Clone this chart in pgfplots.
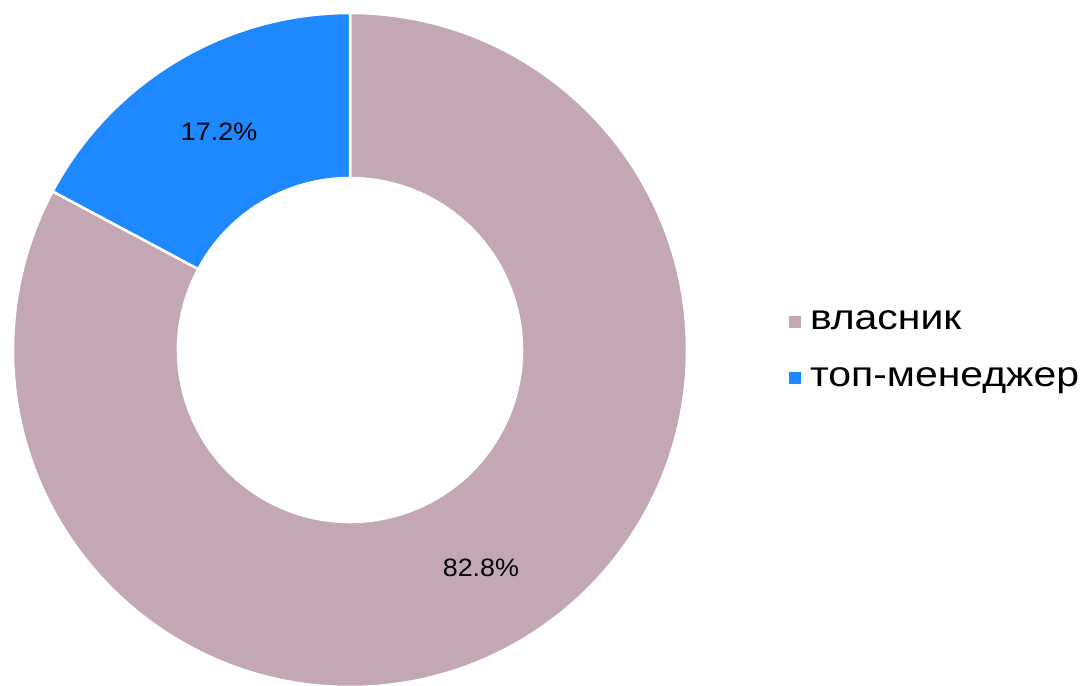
\documentclass[border=0pt]{standalone}
\usepackage{fontspec}
\setmainfont{Liberation Sans}
\newfontfamily\legfont[FakeStretch=1.165]{Liberation Sans}
\newfontfamily\labfont[FakeStretch=1.07]{Liberation Sans}
\usepackage{pgfplots}
\pgfplotsset{compat=1.18}
\definecolor{cOwner}{HTML}{C4A7B4}
\definecolor{cTop}{HTML}{1E88FF}
\begin{document}
\begin{tikzpicture}
% data (percent)
\def\vA{82.8}% власник
\def\vB{17.2}% топ-менеджер
\pgfmathsetmacro\aA{90}
\pgfmathsetmacro\aB{90-3.6*\vA}
\pgfmathsetmacro\aC{\aB-3.6*\vB}
\pgfmathsetmacro\mA{(\aA+\aB)/2}
\pgfmathsetmacro\mB{(\aB+\aC)/2}
\def\Ro{6.74cm}
\def\Ri{3.44cm}
\def\Rm{5.09cm}
\begin{axis}[
  x=1cm, y=1cm,
  xmin=0, xmax=21.72, ymin=0, ymax=13.7,
  hide axis, clip=false,
  legend style={at={(axis cs:15.78,6.70)}, anchor=west, draw=none, fill=none,
    inner sep=0pt, outer sep=0pt, font=\legfont\fontsize{20}{24}\selectfont,
    row sep=20pt, legend cell align=left,
    nodes={inner sep=0pt},
    /tikz/every odd column/.append style={column sep=0.18cm}},
  legend image code/.code={\fill[#1, draw=none] (0cm,-0.12cm) rectangle (0.24cm,0.12cm);},
]
\coordinate (bl) at (axis cs:0,0);
\coordinate (tr) at (axis cs:21.72,13.7);
\begin{scope}[shift={(axis cs:7.0,6.7)}]
\filldraw[fill=cOwner, draw=white, line width=0.05cm]
  (\aA:\Ro) arc[start angle=\aA, end angle=\aB, radius=\Ro]
  -- (\aB:\Ri) arc[start angle=\aB, end angle=\aA, radius=\Ri] -- cycle;
\filldraw[fill=cTop, draw=white, line width=0.05cm]
  (\aB:\Ro) arc[start angle=\aB, end angle=\aC, radius=\Ro]
  -- (\aC:\Ri) arc[start angle=\aC, end angle=\aB, radius=\Ri] -- cycle;
\node[font=\labfont\fontsize{14.3}{16}\selectfont] at (\mA:\Rm) {82.8\%};
\node[font=\labfont\fontsize{14.3}{16}\selectfont] at (\mB:\Rm) {17.2\%};
\end{scope}
\addlegendimage{fill=cOwner}
\addlegendentry{власник}
\addlegendimage{fill=cTop}
\addlegendentry{топ-менеджер}
\end{axis}
\pgfresetboundingbox
\useasboundingbox (bl) rectangle (tr);
\end{tikzpicture}
\end{document}
